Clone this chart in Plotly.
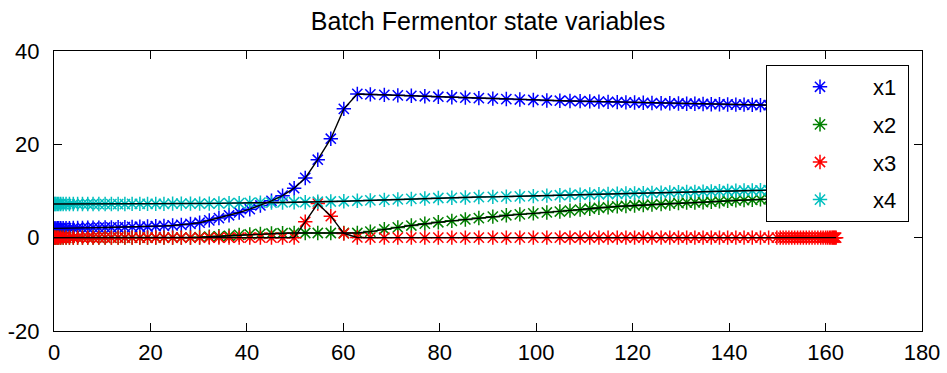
import plotly.graph_objects as go

# ---- data ----
t = [0, 0.2, 0.4, 0.7, 1.0, 1.4, 1.9, 2.5, 3.2, 4.0, 4.9, 5.9, 7.0, 8.1, 9.3,
     10.6, 11.9, 13.3, 14.7, 16.2, 17.8, 19.4, 21.1, 22.8, 24.6, 26.4, 28.3,
     30.2, 32.2, 34.2, 36.3, 38.4, 40.6, 42.8, 45.1, 47.4, 49.8, 52.1, 54.7, 57.4, 60.1, 62.9,
     65.6, 68.5, 71.3, 74.1, 76.9, 79.7, 82.5, 85.3, 88.1, 91.0, 93.8, 96.6, 99.4, 102.2, 104.9,
     107.0, 109.1, 111.1, 113.0, 114.9, 116.8, 118.6, 120.4, 122.2, 124.0, 125.9, 127.7, 129.5,
     131.2, 132.9, 134.6, 136.3, 138.0, 139.7, 141.4, 143.1, 144.8, 146.5, 148.2, 149.9,
     150.6, 151.2, 151.8, 152.4, 153.0, 153.6, 154.2, 154.8, 155.4, 156.0, 156.6, 157.2, 157.8,
     158.4, 159.0, 159.5, 160.0, 160.4, 160.8, 161.1, 161.4, 161.6, 161.8, 162.0, 162.2]

x1 = [2.00, 2.00, 2.00, 2.01, 2.01, 2.02, 2.03, 2.04, 2.05, 2.06, 2.08, 2.10, 2.12, 2.14, 2.16,
      2.18, 2.20, 2.23, 2.26, 2.30, 2.34, 2.39, 2.45, 2.52, 2.62, 2.75, 2.95,
      3.2, 3.7, 4.2, 4.8, 5.4, 6.1, 6.9, 7.9, 9.0, 10.6, 12.8, 16.7, 21.2, 27.6, 30.8,
      30.7, 30.6, 30.5, 30.4, 30.3, 30.2, 30.1, 30.0, 29.9, 29.8, 29.7, 29.6, 29.5, 29.4, 29.35,
      29.3, 29.25, 29.2, 29.15, 29.1, 29.05, 29.0, 28.95, 28.9, 28.85, 28.8, 28.8, 28.75,
      28.7, 28.7, 28.65, 28.6, 28.6, 28.55, 28.5, 28.5, 28.45, 28.4, 28.4, 28.35,
      28.33, 28.32, 28.31, 28.3, 28.29, 28.28, 28.27, 28.26, 28.25, 28.24, 28.23, 28.22, 28.21,
      28.2, 28.19, 28.18, 28.17, 28.16, 28.15, 28.15, 28.14, 28.14, 28.13, 28.13, 28.12]

x2 = [0.0, 0.0, 0.0, 0.0, 0.0, 0.0, 0.0, 0.0, 0.0, 0.0, 0.0, 0.0, 0.0, 0.0, 0.0,
      0.0, 0.0, 0.0, 0.0, 0.0, 0.0, 0.0, 0.0, 0.0, 0.0, 0.0, 0.0,
      0.1, 0.2, 0.3, 0.4, 0.6, 0.7, 0.8, 0.9, 0.95, 1.0, 1.0, 1.0, 1.0, 1.0, 1.0,
      1.3, 1.8, 2.2, 2.6, 3.0, 3.3, 3.6, 3.9, 4.2, 4.5, 4.8, 5.0, 5.2, 5.4, 5.6,
      5.8, 6.0, 6.2, 6.4, 6.5, 6.7, 6.8, 6.9, 7.0, 7.1, 7.2, 7.3, 7.4,
      7.5, 7.55, 7.6, 7.7, 7.8, 7.9, 8.0, 8.05, 8.1, 8.2, 8.25, 8.3,
      8.32, 8.34, 8.36, 8.38, 8.4, 8.42, 8.44, 8.46, 8.48, 8.5, 8.52, 8.54, 8.56,
      8.58, 8.6, 8.61, 8.62, 8.63, 8.64, 8.65, 8.66, 8.66, 8.67, 8.67, 8.68]

x3 = [0.0] * 27 + \
     [0.0, 0.0, 0.0, 0.0, 0.0, 0.0, 0.0, 0.0, 0.0, 0.0, 3.4, 7.3, 4.6, 0.9, 0.05] + \
     [0.0] * 15 + [0.0] * 25 + [0.0] * 25

x4 = [7.2, 7.2, 7.2, 7.2, 7.2, 7.2, 7.2, 7.2, 7.2, 7.2, 7.2, 7.2, 7.2, 7.2, 7.2,
      7.2, 7.2, 7.2, 7.2, 7.25, 7.25, 7.25, 7.25, 7.25, 7.3, 7.3, 7.3,
      7.3, 7.3, 7.35, 7.4, 7.4, 7.45, 7.5, 7.5, 7.55, 7.6, 7.6, 7.7, 7.75, 7.8, 7.9,
      8.0, 8.1, 8.2, 8.3, 8.4, 8.5, 8.55, 8.6, 8.7, 8.75, 8.8, 8.85, 8.9, 9.0, 9.1,
      9.15, 9.2, 9.25, 9.3, 9.35, 9.4, 9.45, 9.5, 9.55, 9.6, 9.65, 9.7, 9.75,
      9.8, 9.8, 9.85, 9.9, 9.95, 10.0, 10.05, 10.1, 10.1, 10.15, 10.2, 10.2,
      10.22, 10.24, 10.26, 10.28, 10.3, 10.32, 10.34, 10.36, 10.38, 10.4, 10.41, 10.42, 10.43,
      10.44, 10.45, 10.46, 10.47, 10.48, 10.49, 10.5, 10.5, 10.5, 10.51, 10.51, 10.52]

names = ["x1", "x2", "x3", "x4"]
series = [x1, x2, x3, x4]
colors = ["#0000FF", "#008000", "#FF0000", "#00BFBF"]

x_ticks = [0, 20, 40, 60, 80, 100, 120, 140, 160, 180]
y_ticks = [-20, 0, 20, 40]
y_tick_labels = ["-20", "0", "20", "40"]
title_text = "Batch Fermentor state variables"

FONT = "Liberation Sans, Arial, Helvetica, sans-serif"

PL, PT, PW, PH = 54, 51, 868, 280

fig = go.Figure()
for nm, ys, c in zip(names, series, colors):
    fig.add_trace(go.Scatter(
        x=t, y=ys, mode="markers", name=nm + "\u00a0", legendgroup=nm,
        marker=dict(symbol="asterisk-open", size=12, color=c,
                    line=dict(color=c, width=1.5)),
    ))
for nm, ys in zip(names, series):
    fig.add_trace(go.Scatter(
        x=t, y=ys, mode="lines", showlegend=False, legendgroup=nm,
        line=dict(color="black", width=1.4), hoverinfo="skip",
    ))

fig.update_layout(
    width=947, height=373,
    margin=dict(l=PL, r=947 - PL - PW, t=PT, b=373 - PT - PH, autoexpand=False),
    paper_bgcolor="white", plot_bgcolor="white",
    font=dict(family=FONT, size=22, color="#000000"),
    title=dict(text=title_text, x=0.5, xref="paper", xanchor="center",
               y=1 - 21 / 373, yref="container", yanchor="middle",
               font=dict(family=FONT, size=25, color="#000000")),
    showlegend=True,
    legend=dict(x=(766 - PL) / PW, y=(PT + PH - 65) / PH, xanchor="left", yanchor="top",
                bgcolor="white", bordercolor="black", borderwidth=1,
                font=dict(family=FONT, size=22, color="#000000"),
                itemwidth=96, tracegroupgap=6, traceorder="grouped"),
)
fig.update_xaxes(range=[0, 180], tickvals=x_ticks, ticks="inside", ticklen=8,
                 tickcolor="black", showline=True, linecolor="black", linewidth=1,
                 mirror="ticks", showgrid=False, zeroline=False, automargin=False,
                 ticklabelstandoff=2, tickfont=dict(size=22))
fig.update_yaxes(range=[-20, 40], tickvals=y_ticks, ticktext=y_tick_labels,
                 ticks="inside", ticklen=8,
                 tickcolor="black", showline=True, linecolor="black", linewidth=1,
                 mirror="ticks", showgrid=False, zeroline=False, automargin=False,
                 ticklabelstandoff=9, tickfont=dict(size=22))

fig.write_html("out.html", config={"displayModeBar": False},
               post_script="document.body.style.margin='0';document.body.style.overflow='hidden';")
